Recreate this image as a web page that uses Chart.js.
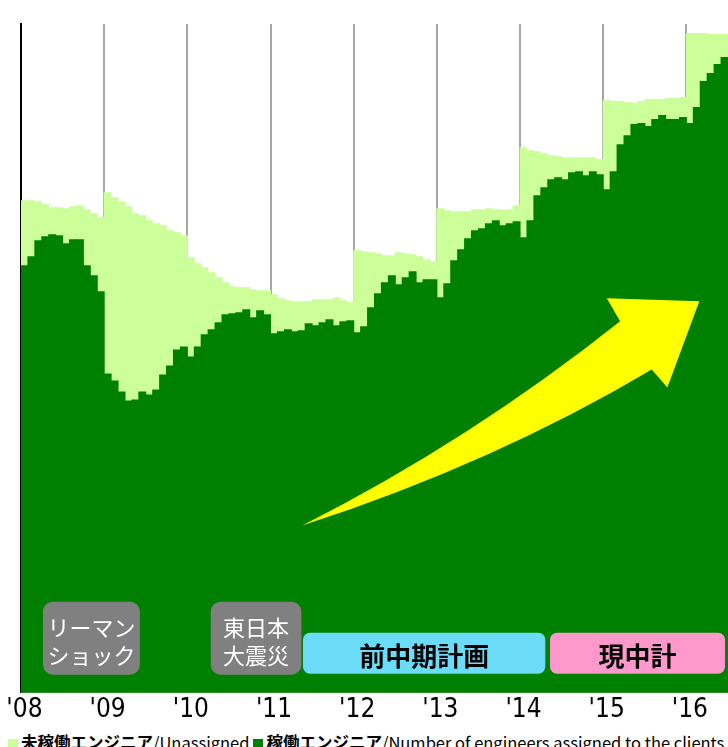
<!DOCTYPE html>
<html>
<head>
<meta charset="utf-8">
<script src="https://cdn.jsdelivr.net/npm/chart.js@4/dist/chart.umd.min.js"></script>
<style>
  body { margin: 0; background: #fff; width: 728px; height: 747px; overflow: hidden; position: relative; }
  #chart { position: absolute; left: 0; top: 0; }
  #legend {
    position: absolute; left: 8px; top: 732px; white-space: nowrap;
    font-family: "Noto Sans CJK JP", sans-serif; font-size: 16.5px; line-height: 20px; color: #000;
  }
  #legend .item { display: inline-block; margin-right: 4px; }
  #legend .box { display: inline-block; width: 10px; height: 10px; margin-right: 3px; vertical-align: 0px; }
  #legend b { font-weight: 700; }
</style>
</head>
<body>
<canvas id="chart" width="728" height="728"></canvas>
<div id="legend"></div>
<script>
/* Engineers per month, Jan 2008 - Jun 2016 (relative units) */
const YEARS = ["'08", "'09", "'10", "'11", "'12", "'13", "'14", "'15", "'16"];
const MONTH_COUNT = 102;

// 稼働エンジニア (assigned) - one value per month
const ASSIGNED = [
  427, 436, 452, 456, 458, 457, 449, 453, 453, 427, 417, 401,
  319, 312, 301, 292, 293, 301, 298, 303, 318, 327, 343, 346,
  336, 346, 358, 363, 370, 378, 379, 380, 383, 375, 382, 378,
  359, 361, 363, 361, 362, 369, 367, 370, 373, 367, 371, 372,
  360, 366, 385, 399, 410, 417, 408, 415, 421, 410, 413, 413,
  395, 409, 432, 443, 454, 462, 464, 469, 472, 467, 469, 471,
  455, 472, 497, 505, 513, 515, 513, 520, 521, 517, 521, 518,
  503, 521, 548, 557, 568, 569, 566, 573, 577, 573, 573, 575,
  569, 585, 611, 619, 628, 635
];

// all engineers (assigned + 未稼働 unassigned) - top of the light bars
const TOTAL = [
  492, 492, 491, 488, 485, 485, 484, 486, 487, 483, 479, 475,
  500, 495, 491, 486, 479, 477, 472, 469, 467, 462, 460, 457,
  435, 429, 425, 420, 415, 410, 406, 405, 405, 403, 402, 402,
  398, 394, 392, 391, 391, 391, 393, 393, 393, 395, 392, 390,
  442, 441, 440, 439, 437, 437, 440, 439, 438, 436, 433, 431,
  484, 482, 481, 481, 481, 483, 483, 484, 483, 483, 483, 487,
  545, 542, 541, 539, 537, 536, 535, 535, 535, 535, 535, 533,
  592, 591, 591, 590, 589, 591, 593, 593, 593, 594, 594, 595,
  659, 659, 659, 658, 658, 658
];

const Y_MAX = 668;

// month categories, e.g. "2008-01"
const MONTHS = [];
for (let i = 0; i < MONTH_COUNT; i++) {
  const yr = 2008 + Math.floor(i / 12);
  MONTHS.push(yr + "-" + String(i % 12 + 1).padStart(2, "0"));
}

// labelled boxes under the bars (x in month index, y in value units)
const NOTE_BOXES = [
  { lines: ["リーマン", "ショック"], from: 2.67, to: 16.65, top: 91, bottom: 18, color: "#808080", text: "#fff", font: "22px 'Noto Sans CJK JP'", radius: 10 },
  { lines: ["東日本", "大震災"], from: 26.87, to: 39.95, top: 91, bottom: 18, color: "#808080", text: "#fff", font: "22px 'Noto Sans CJK JP'", radius: 10 },
  { lines: ["前中期計画"], from: 40.18, to: 75.14, top: 60, bottom: 19, color: "#6bdcf8", text: "#000", font: "bold 26px 'Noto Sans CJK JP'", radius: 7 },
  { lines: ["現中計"], from: 75.82, to: 101.07, top: 60, bottom: 19, color: "#ff99cc", text: "#000", font: "bold 26px 'Noto Sans CJK JP'", radius: 7 },
];

// big yellow growth arrow
const ARROW = {
  tail: [40.08, 167],
  upperCtrl: [64.33, 252], upperBase: [85.94, 371],
  barbUp: [84.02, 394], tip: [97.36, 391], barbDown: [92.75, 305],
  lowerBase: [90.5, 323], lowerCtrl: [67.93, 230],
};

const notesPlugin = {
  id: "notes",
  afterDatasetsDraw(chart) {
    const { ctx, scales: { x, y } } = chart;
    const P = (p) => [x.getPixelForValue(p[0]), y.getPixelForValue(p[1])];
    ctx.save();

    // arrow
    const t = P(ARROW.tail), uc = P(ARROW.upperCtrl), ub = P(ARROW.upperBase);
    const bu = P(ARROW.barbUp), tip = P(ARROW.tip), bd = P(ARROW.barbDown);
    const lb = P(ARROW.lowerBase), lc = P(ARROW.lowerCtrl);
    ctx.fillStyle = "#ffff00";
    ctx.beginPath();
    ctx.moveTo(t[0], t[1]);
    ctx.quadraticCurveTo(uc[0], uc[1], ub[0], ub[1]);
    ctx.lineTo(bu[0], bu[1]);
    ctx.lineTo(tip[0], tip[1]);
    ctx.lineTo(bd[0], bd[1]);
    ctx.lineTo(lb[0], lb[1]);
    ctx.quadraticCurveTo(lc[0], lc[1], t[0], t[1]);
    ctx.closePath();
    ctx.fill();

    // boxes
    NOTE_BOXES.forEach((b) => {
      const x0 = x.getPixelForValue(b.from), x1 = x.getPixelForValue(b.to);
      const y0 = y.getPixelForValue(b.top), y1 = y.getPixelForValue(b.bottom);
      ctx.fillStyle = b.color;
      ctx.beginPath();
      ctx.roundRect(x0, y0, x1 - x0, y1 - y0, b.radius);
      ctx.fill();
      ctx.fillStyle = b.text;
      ctx.font = b.font;
      ctx.textAlign = "center";
      ctx.textBaseline = "middle";
      const cx = (x0 + x1) / 2, cy = (y0 + y1) / 2;
      const n = b.lines.length;
      b.lines.forEach((ln, i) => {
        ctx.fillText(ln, cx, cy + (i - (n - 1) / 2) * 28 + 3);
      });
    });
    ctx.restore();
  },
};

const chart = new Chart(document.getElementById("chart"), {
  type: "bar",
  data: {
    labels: MONTHS,
    datasets: [
      {
        label: "稼働エンジニア/Number of engineers assigned to the clients",
        data: ASSIGNED,
        backgroundColor: "#008000",
      },
      {
        label: "未稼働エンジニア/Unassigned",
        data: TOTAL,
        backgroundColor: "#ccff99",
      },
    ],
  },
  options: {
    responsive: false,
    animation: false,
    layout: { padding: { left: 13, right: 0, top: 24, bottom: 0 } },
    plugins: { legend: { display: false }, tooltip: { enabled: false } },
    datasets: {
      // bars drawn over each other (light = total behind, dark = assigned in front),
      // slightly wider than a slot so neighbours overlap and no seams show
      bar: { grouped: false, borderWidth: 0, categoryPercentage: 1, barPercentage: 1.15 },
    },
    scales: {
      x: {
        grid: {
          offset: true,
          drawTicks: false,
          lineWidth: 2,
          color: (c) => (c.index % 12 === 0 && c.index > 0 ? "#a6a6a6" : "rgba(0,0,0,0)"),
        },
        border: { display: true, color: "#000", width: 1 },
        ticks: {
          autoSkip: false,
          maxRotation: 0,
          padding: 2,
          color: "#000",
          font: { family: "'Liberation Sans Narrow', 'DejaVu Sans Condensed', sans-serif", size: 26 },
          callback: (v, i) => (i % 12 === 0 ? YEARS[i / 12] : ""),
        },
      },
      y: {
        min: 0,
        max: Y_MAX,
        grid: { display: false },
        border: { display: true, color: "#000", width: 2 },
        ticks: { display: false },
      },
    },
  },
  plugins: [notesPlugin],
});

// html legend (unassigned first, like the original)
const legendEl = document.getElementById("legend");
chart.data.datasets.slice().reverse().forEach((ds) => {
  const [jp, en] = ds.label.split("/");
  const item = document.createElement("span");
  item.className = "item";
  item.innerHTML = `<span class="box" style="background:${ds.backgroundColor}"></span><b>${jp}</b>/${en}`;
  legendEl.appendChild(item);
});
</script>
</body>
</html>
